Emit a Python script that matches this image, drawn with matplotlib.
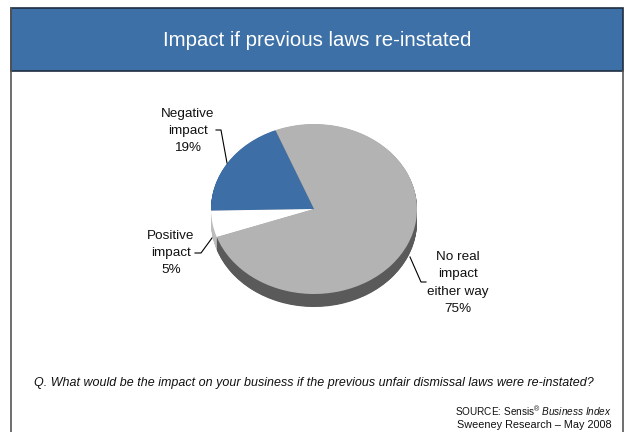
import numpy as np
import matplotlib
matplotlib.use('Agg')
import matplotlib.pyplot as plt
from matplotlib.patches import Rectangle
from matplotlib.lines import Line2D

plt.rcParams['font.family'] = ['Liberation Sans', 'DejaVu Sans']
plt.rcParams['mathtext.fontset'] = 'custom'
plt.rcParams['mathtext.rm'] = 'Liberation Sans'
plt.rcParams['mathtext.it'] = 'Liberation Sans:italic'

# survey answers (percent)
answers = ['Negative\nimpact', 'Positive\nimpact', 'No real\nimpact\neither way']
shares = [19, 5, 75]
top_colors = ['#3D6FA6', '#FFFFFF', '#B3B3B3']
side_colors = ['#2B5079', '#BDBDBD', '#5A5A5A']

title = 'Impact if previous laws re-instated'
question = ('Q. What would be the impact on your business if the previous '
            'unfair dismissal laws were re-instated?')

W, H = 624, 432
fig = plt.figure(figsize=(W / 100, H / 100), dpi=100)


def px(x, y):
    return x / W, 1 - y / H


# frame and title band
ft = fig.transFigure
fig.add_artist(Line2D([10.5 / W, 10.5 / W], [1 - 8 / H, 0], transform=ft,
                      color='#555555', lw=1.2))
fig.add_artist(Line2D([623 / W, 623 / W], [1 - 71 / H, 0], transform=ft,
                      color='#555555', lw=1.2))
fig.add_artist(Rectangle(px(11, 71), 612 / W, 63 / H, transform=ft,
                         facecolor='#3D70A6', edgecolor='#1E2E42', lw=1.2))
fig.text(*px(317, 41), title, color='white', fontsize=14.7,
         ha='center', va='center')

# pie: 1 unit = 103 px horizontally, 85 px vertically
cx, cy, rx, ry = 314, 209, 103, 85
x0, x1, y0, y1 = -1.3, 1.3, -1.5, 1.3
left, top = cx + x0 * rx, cy - y1 * ry
ax = fig.add_axes([left / W, 1 - (top + (y1 - y0) * ry) / H,
                   (x1 - x0) * rx / W, (y1 - y0) * ry / H])

depth = 13 / ry
start = 112
for d in np.linspace(depth, 0, 27)[:-1]:
    ax.pie(shares, colors=side_colors, startangle=start, center=(0, -d),
           wedgeprops=dict(linewidth=0))
ax.pie(shares, colors=top_colors, startangle=start,
       wedgeprops=dict(linewidth=0))
ax.set_aspect('auto')
ax.set_xlim(x0, x1)
ax.set_ylim(y0, y1)
ax.axis('off')

# labels with leader lines
label_pos = [(188, 131), (171, 253), (458, 283)]
leaders = [[(216, 130), (221, 130), (227, 163)],
           [(195, 253), (201, 253), (212, 238)],
           [(410, 257), (421, 282), (426, 282)]]
for name, val, (lx, ly), pts in zip(answers, shares, label_pos, leaders):
    fig.text(*px(lx, ly), f'{name}\n{val}%', fontsize=9.7, ha='center',
             va='center', linespacing=1.6, color='#111111')
    xs = [p[0] / W for p in pts]
    ys = [1 - p[1] / H for p in pts]
    fig.add_artist(Line2D(xs, ys, transform=ft, color='black', lw=0.8))

fig.text(*px(314, 383), question, fontsize=9.0, style='italic',
         ha='center', va='center', color='#111111')
fig.text(*px(612, 411), r'SOURCE: Sensis$^{®}$ $\mathit{Business\ Index}$',
         fontsize=7.2, ha='right', va='center', color='#111111')
fig.text(*px(612, 425), 'Sweeney Research \u2013 May 2008',
         fontsize=7.8, ha='right', va='center', color='#111111')

fig.savefig('out.png', dpi=100)
